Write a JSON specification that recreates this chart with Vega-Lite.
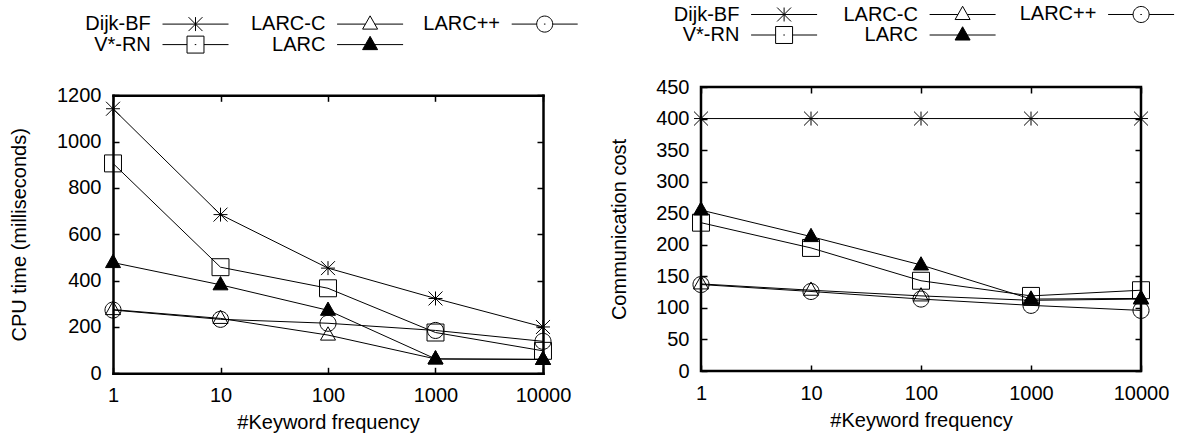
{
  "$schema": "https://vega.github.io/schema/vega-lite/v6.json",
  "background": "white",
  "padding": {"left": 9, "top": 2, "right": 0, "bottom": 0},
  "spacing": 27,
  "datasets": {
    "cpu": [
      {"freq": 1, "series": "Dijk-BF", "value": 1142},
      {"freq": 10, "series": "Dijk-BF", "value": 685},
      {"freq": 100, "series": "Dijk-BF", "value": 454},
      {"freq": 1000, "series": "Dijk-BF", "value": 323},
      {"freq": 10000, "series": "Dijk-BF", "value": 200},
      {"freq": 1, "series": "V*-RN", "value": 906},
      {"freq": 10, "series": "V*-RN", "value": 458},
      {"freq": 100, "series": "V*-RN", "value": 367},
      {"freq": 1000, "series": "V*-RN", "value": 176},
      {"freq": 10000, "series": "V*-RN", "value": 97},
      {"freq": 1, "series": "LARC-C", "value": 275},
      {"freq": 10, "series": "LARC-C", "value": 237},
      {"freq": 100, "series": "LARC-C", "value": 165},
      {"freq": 1000, "series": "LARC-C", "value": 62},
      {"freq": 10000, "series": "LARC-C", "value": 60},
      {"freq": 1, "series": "LARC", "value": 478},
      {"freq": 10, "series": "LARC", "value": 382},
      {"freq": 100, "series": "LARC", "value": 272},
      {"freq": 1000, "series": "LARC", "value": 62},
      {"freq": 10000, "series": "LARC", "value": 60},
      {"freq": 1, "series": "LARC++", "value": 273},
      {"freq": 10, "series": "LARC++", "value": 233},
      {"freq": 100, "series": "LARC++", "value": 216},
      {"freq": 1000, "series": "LARC++", "value": 185},
      {"freq": 10000, "series": "LARC++", "value": 138}
    ],
    "comm": [
      {"freq": 1, "series": "Dijk-BF", "value": 400},
      {"freq": 10, "series": "Dijk-BF", "value": 400},
      {"freq": 100, "series": "Dijk-BF", "value": 400},
      {"freq": 1000, "series": "Dijk-BF", "value": 400},
      {"freq": 10000, "series": "Dijk-BF", "value": 400},
      {"freq": 1, "series": "V*-RN", "value": 235},
      {"freq": 10, "series": "V*-RN", "value": 195},
      {"freq": 100, "series": "V*-RN", "value": 143},
      {"freq": 1000, "series": "V*-RN", "value": 119},
      {"freq": 10000, "series": "V*-RN", "value": 128},
      {"freq": 1, "series": "LARC-C", "value": 138},
      {"freq": 10, "series": "LARC-C", "value": 128},
      {"freq": 100, "series": "LARC-C", "value": 119},
      {"freq": 1000, "series": "LARC-C", "value": 112},
      {"freq": 10000, "series": "LARC-C", "value": 114},
      {"freq": 1, "series": "LARC", "value": 255},
      {"freq": 10, "series": "LARC", "value": 213},
      {"freq": 100, "series": "LARC", "value": 168},
      {"freq": 1000, "series": "LARC", "value": 114},
      {"freq": 10000, "series": "LARC", "value": 115},
      {"freq": 1, "series": "LARC++", "value": 137},
      {"freq": 10, "series": "LARC++", "value": 126},
      {"freq": 100, "series": "LARC++", "value": 114},
      {"freq": 1000, "series": "LARC++", "value": 104},
      {"freq": 10000, "series": "LARC++", "value": 96}
    ]
  },
  "config": {
    "font": "Liberation Sans",
    "view": {"stroke": "black", "strokeWidth": 2.5},
    "axis": {
      "domain": false, "grid": false, "ticks": true,
      "tickColor": "black", "tickWidth": 1.5, "tickSize": -6,
      "labelFont": "Liberation Sans", "labelFontSize": 20, "labelColor": "black",
      "labelPadding": 18, "labelFlush": false, "labelOverlap": false,
      "titleFont": "Liberation Sans", "titleFontSize": 20, "titleFontWeight": "normal", "titleColor": "black"
    },
    "legend": {
      "title": null, "orient": "none", "columns": 3, "direction": "horizontal",
      "symbolSize": 225, "symbolStrokeColor": "black", "symbolStrokeWidth": 1,
      "symbolOffset": 0, "padding": 0,
      "labelFont": "Liberation Sans", "labelFontSize": 20, "labelColor": "black",
      "labelAlign": "right", "labelBaseline": "middle", "labelOffset": -54.7, "labelLimit": 0,
      "rowPadding": -2.5
    }
  },
  "hconcat": [
    {
      "width": 430, "height": 286.3,
      "view": {"stroke": null},
      "data": {"name": "cpu"},
      "layer": [
        {
          "mark": {"type": "line", "color": "black", "strokeWidth": 1},
          "encoding": {
            "x": {"field": "freq", "type": "quantitative", "scale": {"type": "log", "domain": [1, 10000]},
                  "axis": {"orient": "bottom", "values": [1, 10, 100, 1000, 10000], "format": "d", "title": "#Keyword frequency", "titlePadding": 7,
                           "domain": true, "domainColor": "black", "domainWidth": 2.5, "domainCap": "square"}},
            "y": {"field": "value", "type": "quantitative", "scale": {"domain": [0, 1200], "nice": false, "zero": true, "range": [286.3, 8.3]},
                  "axis": {"orient": "left", "values": [0, 200, 400, 600, 800, 1000, 1200], "format": "d", "title": "CPU time (milliseconds)", "titlePadding": 27,
                           "domain": true, "domainColor": "black", "domainWidth": 2.5, "domainCap": "square"}},
            "detail": {"field": "series"}
          }
        },
        {
          "mark": {"type": "point", "stroke": "black", "strokeWidth": 1, "size": 225, "opacity": 1},
          "encoding": {
            "x": {"field": "freq", "type": "quantitative", "axis": null},
            "y": {"field": "value", "type": "quantitative", "axis": null},
            "shape": {"field": "series", "type": "nominal", "legend": null,
              "scale": {"domain": ["Dijk-BF", "V*-RN", "LARC-C", "LARC", "LARC++"],
                "range": [
                  "M-0.93,0L0.93,0M0,-0.93L0,0.93M-0.93,-0.93L0.93,0.93M-0.93,0.93L0.93,-0.93",
                  "M-1.13,-1.13L1.13,-1.13L1.13,1.13L-1.13,1.13Z",
                  "M0,-1.1L1,0.67L-1,0.67Z",
                  "M0,-1.1L1,0.67L-1,0.67Z",
                  "M-1.07,0A1.07,1.07,0,1,0,1.07,0A1.07,1.07,0,1,0,-1.07,0Z"
                ]}},
            "fill": {"field": "series", "type": "nominal", "legend": null,
              "scale": {"domain": ["Dijk-BF", "V*-RN", "LARC-C", "LARC", "LARC++"],
                "range": ["transparent", "transparent", "transparent", "black", "transparent"]}}
          }
        },
        {
          "transform": [{"filter": "datum.value < 0"}],
          "mark": {"type": "point", "strokeWidth": 1, "size": 225, "opacity": 1},
          "encoding": {
            "x": {"field": "freq", "type": "quantitative", "axis": null},
            "y": {"field": "value", "type": "quantitative", "axis": null},
            "shape": {"field": "series", "type": "nominal",
              "legend": {"legendX": 72.5, "legendY": -73.4, "columnPadding": 7.6},
              "scale": {"domain": ["Dijk-BF", "LARC-C", "LARC++", "V*-RN", "LARC"],
                "range": [
                  "M-17.3,0M-4.4,0L4.4,0M0,-0.93L0,0.93M-0.93,-0.93L0.93,0.93M-0.93,0.93L0.93,-0.93",
                  "M-17.3,0M-4.4,0L-0.62,0M0.62,0L4.4,0M0,-1.1L1,0.67L-1,0.67Z",
                  "M-17.3,0M-4.4,0L-1.07,0M1.07,0L4.4,0M-0.1,0L0.1,0M-1.07,0A1.07,1.07,0,1,0,1.07,0A1.07,1.07,0,1,0,-1.07,0Z",
                  "M-17.3,0M-4.4,0L-1.13,0M1.13,0L4.4,0M-0.1,0L0.1,0M-1.13,-1.13L1.13,-1.13L1.13,1.13L-1.13,1.13Z",
                  "M-17.3,0M-4.4,0L4.4,0M0,-1.1L1,0.67L-1,0.67Z"
                ]}},
            "fill": {"field": "series", "type": "nominal",
              "legend": {"legendX": 72.5, "legendY": -73.4, "columnPadding": 7.6},
              "scale": {"domain": ["Dijk-BF", "LARC-C", "LARC++", "V*-RN", "LARC"],
                "range": ["white", "white", "white", "white", "black"]}},
            "stroke": {"field": "series", "type": "nominal",
              "legend": {"legendX": 72.5, "legendY": -73.4, "columnPadding": 7.6},
              "scale": {"domain": ["Dijk-BF", "LARC-C", "LARC++", "V*-RN", "LARC"],
                "range": ["black", "black", "black", "black", "black"]}}
          }
        },
        {
          "mark": {"type": "point", "opacity": 0},
          "encoding": {
            "x": {"field": "freq", "type": "quantitative",
                  "axis": {"orient": "top", "offset": -8.3, "values": [1, 10, 100, 1000, 10000], "labels": false, "title": null,
                           "domain": true, "domainColor": "black", "domainWidth": 2.5, "domainCap": "square"}},
            "y": {"field": "value", "type": "quantitative",
                  "axis": {"orient": "right", "values": [0, 200, 400, 600, 800, 1000, 1200], "labels": false, "title": null,
                           "domain": true, "domainColor": "black", "domainWidth": 2.5, "domainCap": "square"}}
          }
        }
      ],
      "resolve": {"scale": {"shape": "independent", "fill": "independent", "stroke": "independent"}, "axis": {"x": "independent", "y": "independent"}}
    },
    {
      "width": 440, "height": 284,
      "data": {"name": "comm"},
      "layer": [
        {
          "mark": {"type": "line", "color": "black", "strokeWidth": 1},
          "encoding": {
            "x": {"field": "freq", "type": "quantitative", "scale": {"type": "log", "domain": [1, 10000]},
                  "axis": {"orient": "bottom", "values": [1, 10, 100, 1000, 10000], "format": "d", "title": "#Keyword frequency", "titlePadding": 7}},
            "y": {"field": "value", "type": "quantitative", "scale": {"domain": [0, 450], "nice": false, "zero": true},
                  "axis": {"orient": "left", "values": [0, 50, 100, 150, 200, 250, 300, 350, 400, 450], "format": "d", "title": "Communication cost", "titlePadding": 26}},
            "detail": {"field": "series"}
          }
        },
        {
          "mark": {"type": "point", "stroke": "black", "strokeWidth": 1, "size": 225, "opacity": 1},
          "encoding": {
            "x": {"field": "freq", "type": "quantitative", "axis": null},
            "y": {"field": "value", "type": "quantitative", "axis": null},
            "shape": {"field": "series", "type": "nominal", "legend": null,
              "scale": {"domain": ["Dijk-BF", "V*-RN", "LARC-C", "LARC", "LARC++"],
                "range": [
                  "M-0.93,0L0.93,0M0,-0.93L0,0.93M-0.93,-0.93L0.93,0.93M-0.93,0.93L0.93,-0.93",
                  "M-1.13,-1.13L1.13,-1.13L1.13,1.13L-1.13,1.13Z",
                  "M0,-1.1L1,0.67L-1,0.67Z",
                  "M0,-1.1L1,0.67L-1,0.67Z",
                  "M-1.07,0A1.07,1.07,0,1,0,1.07,0A1.07,1.07,0,1,0,-1.07,0Z"
                ]}},
            "fill": {"field": "series", "type": "nominal", "legend": null,
              "scale": {"domain": ["Dijk-BF", "V*-RN", "LARC-C", "LARC", "LARC++"],
                "range": ["transparent", "transparent", "transparent", "black", "transparent"]}}
          }
        },
        {
          "transform": [{"filter": "datum.value < 0"}],
          "mark": {"type": "point", "strokeWidth": 1, "size": 225, "opacity": 1},
          "encoding": {
            "x": {"field": "freq", "type": "quantitative", "axis": null},
            "y": {"field": "value", "type": "quantitative", "axis": null},
            "shape": {"field": "series", "type": "nominal",
              "legend": {"legendX": 73.1, "legendY": -83, "columnPadding": 11.5},
              "scale": {"domain": ["Dijk-BF", "LARC-C", "LARC++", "V*-RN", "LARC"],
                "range": [
                  "M-17.3,0M-4.4,0L4.4,0M0,-0.93L0,0.93M-0.93,-0.93L0.93,0.93M-0.93,0.93L0.93,-0.93",
                  "M-17.3,0M-4.4,0L-0.62,0M0.62,0L4.4,0M0,-1.1L1,0.67L-1,0.67Z",
                  "M-17.3,0M-4.4,0L-1.07,0M1.07,0L4.4,0M-0.1,0L0.1,0M-1.07,0A1.07,1.07,0,1,0,1.07,0A1.07,1.07,0,1,0,-1.07,0Z",
                  "M-17.3,0M-4.4,0L-1.13,0M1.13,0L4.4,0M-0.1,0L0.1,0M-1.13,-1.13L1.13,-1.13L1.13,1.13L-1.13,1.13Z",
                  "M-17.3,0M-4.4,0L4.4,0M0,-1.1L1,0.67L-1,0.67Z"
                ]}},
            "fill": {"field": "series", "type": "nominal",
              "legend": {"legendX": 73.1, "legendY": -83, "columnPadding": 11.5},
              "scale": {"domain": ["Dijk-BF", "LARC-C", "LARC++", "V*-RN", "LARC"],
                "range": ["white", "white", "white", "white", "black"]}},
            "stroke": {"field": "series", "type": "nominal",
              "legend": {"legendX": 73.1, "legendY": -83, "columnPadding": 11.5},
              "scale": {"domain": ["Dijk-BF", "LARC-C", "LARC++", "V*-RN", "LARC"],
                "range": ["black", "black", "black", "black", "black"]}}
          }
        },
        {
          "mark": {"type": "point", "opacity": 0},
          "encoding": {
            "x": {"field": "freq", "type": "quantitative",
                  "axis": {"orient": "top", "values": [1, 10, 100, 1000, 10000], "labels": false, "title": null}},
            "y": {"field": "value", "type": "quantitative",
                  "axis": {"orient": "right", "values": [0, 50, 100, 150, 200, 250, 300, 350, 400, 450], "labels": false, "title": null}}
          }
        }
      ],
      "resolve": {"scale": {"shape": "independent", "fill": "independent", "stroke": "independent"}, "axis": {"x": "independent", "y": "independent"}}
    }
  ]
}
